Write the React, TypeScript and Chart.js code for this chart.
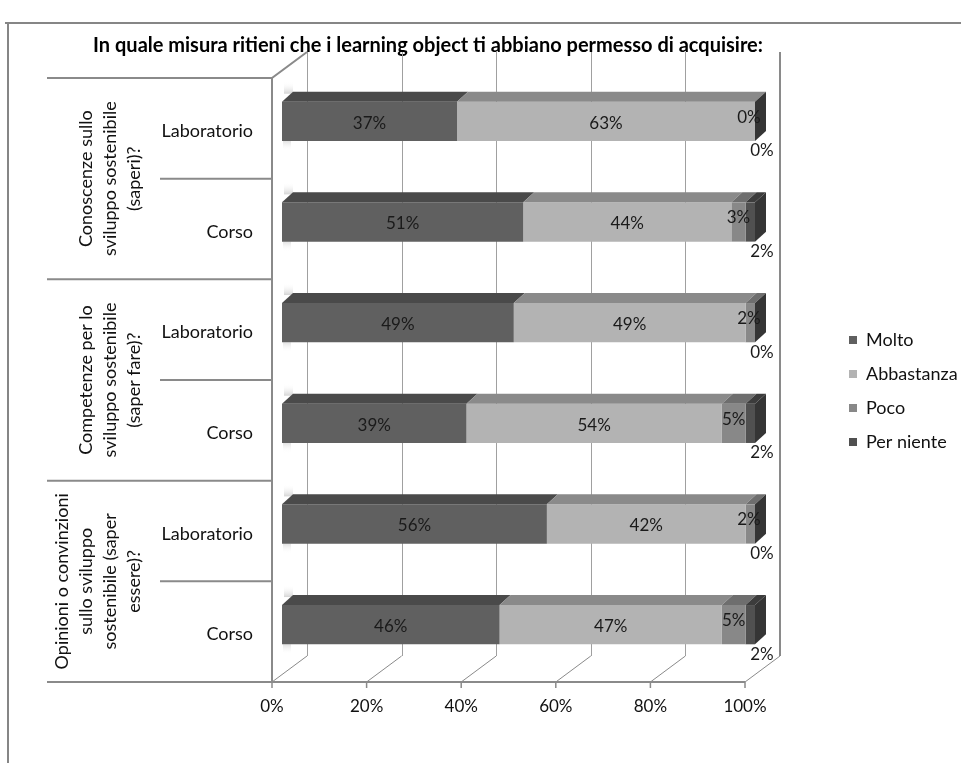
import { useEffect, useRef } from "react";
import { Chart, registerables } from "chart.js";
Chart.register(...registerables);

const title = "In quale misura ritieni che i learning object ti abbiano permesso di acquisire:";
const categories = ["Laboratorio", "Corso", "Laboratorio", "Corso", "Laboratorio", "Corso"];
const groupLabels = [
  ["Conoscenze sullo", "sviluppo sostenibile", "(saperi)?"],
  ["Competenze per lo", "sviluppo sostenibile", "(saper fare)?"],
  ["Opinioni o convinzioni", "sullo sviluppo", "sostenibile (saper", "essere)?"],
];
const seriesNames = ["Molto", "Abbastanza", "Poco", "Per niente"];
const molto = [37, 51, 49, 39, 56, 46];
const abbastanza = [63, 44, 49, 54, 42, 47];
const poco = [0, 3, 2, 5, 2, 5];
const perNiente = [0, 2, 0, 2, 0, 2];
const xTicks = [0, 20, 40, 60, 80, 100];

const frontColors = ["#606060", "#b3b3b3", "#888888", "#505050"];
const topColors = ["#4a4a4a", "#8a8a8a", "#6e6e6e", "#3c3c3c"];
const sideColor = "#353535";
const FONT = "Lato, 'Open Sans', sans-serif";

export default function App() {
  const ref = useRef<HTMLCanvasElement>(null);
  useEffect(() => {
    const DX = 35, DY = -26; // wall depth
    const BDX = 11, BDY = 10; // bar depth
    const FRONT_SHIFT = -10, FRONT_YSHIFT = 7;

    const plugin = {
      id: "threeD",
      beforeDatasetsDraw(chart: any) {
        const ctx = chart.ctx as CanvasRenderingContext2D;
        const xs = chart.scales.x, ys = chart.scales.y;
        const front = (v: number) => xs.getPixelForValue(v) + FRONT_SHIFT;
        const back = (v: number) => front(v) + DX;
        const n = categories.length;
        const band = (ys.bottom - ys.top) / n;
        const fTop = ys.top + FRONT_YSHIFT;
        const fBot = ys.bottom + FRONT_YSHIFT;
        const bTop = fTop + DY, bBot = fBot + DY;
        ctx.save();
        ctx.fillStyle = "#fff";
        ctx.fillRect(0, 0, chart.width, chart.height);
        // frame
        ctx.strokeStyle = "#868686";
        ctx.lineWidth = 2;
        ctx.beginPath();
        ctx.moveTo(5, 23); ctx.lineTo(chart.width, 23);
        ctx.moveTo(8, 23); ctx.lineTo(8, chart.height);
        ctx.stroke();
        // title
        ctx.fillStyle = "#000";
        ctx.font = `bold 20px ${FONT}`;
        ctx.textAlign = "center";
        ctx.textBaseline = "middle";
        ctx.fillText(title, 428, 46);
        // back wall gridlines
        ctx.strokeStyle = "#a0a0a0";
        ctx.lineWidth = 1;
        xTicks.forEach((v) => {
          ctx.beginPath();
          ctx.moveTo(Math.round(back(v)) + 0.5, bTop);
          ctx.lineTo(Math.round(back(v)) + 0.5, bBot);
          ctx.stroke();
        });
        // floor diagonals
        ctx.strokeStyle = "#8a8a8a";
        xTicks.forEach((v) => {
          ctx.beginPath();
          ctx.moveTo(front(v), fBot);
          ctx.lineTo(back(v), bBot);
          ctx.stroke();
        });
        // right wall edge
        ctx.lineWidth = 2;
        ctx.strokeStyle = "#8a8a8a";
        ctx.beginPath();
        ctx.moveTo(back(100), bTop);
        ctx.lineTo(back(100), bBot);
        ctx.stroke();
        // left wall
        ctx.beginPath();
        ctx.moveTo(front(0), fBot);
        ctx.lineTo(front(0), fTop);
        ctx.lineTo(back(0), bTop);
        ctx.stroke();
        // floor front edge
        ctx.beginPath();
        ctx.moveTo(47, fBot);
        ctx.lineTo(front(100), fBot);
        ctx.stroke();
        // tick marks
        ctx.lineWidth = 1.5;
        xTicks.forEach((v) => {
          ctx.beginPath();
          ctx.moveTo(front(v), fBot);
          ctx.lineTo(front(v), fBot + 6);
          ctx.stroke();
        });
        // category axis lines
        ctx.lineWidth = 2;
        for (let k = 0; k < n; k++) {
          const y = fTop + k * band;
          ctx.beginPath();
          ctx.moveTo(k % 2 === 0 ? 47 : 160, y);
          ctx.lineTo(front(0), y);
          ctx.stroke();
        }
        // soft bar shadows on the left wall
        chart.getDatasetMeta(0).data.forEach((el: any) => {
          const t = el.y - el.height / 2, b = el.y + el.height / 2;
          const x0 = el.base;
          let g = ctx.createLinearGradient(0, t - BDY + 2, 0, t - BDY - 10);
          g.addColorStop(0, "rgba(160,160,160,0.45)");
          g.addColorStop(1, "rgba(255,255,255,0)");
          ctx.fillStyle = g;
          ctx.fillRect(x0 + 2, t - BDY - 10, 9, 12);
          g = ctx.createLinearGradient(0, b, 0, b + 10);
          g.addColorStop(0, "rgba(170,170,170,0.35)");
          g.addColorStop(1, "rgba(255,255,255,0)");
          ctx.fillStyle = g;
          ctx.fillRect(x0 + 1, b, 8, 10);
        });
        // x tick labels
        ctx.fillStyle = "#111";
        ctx.font = `17px ${FONT}`;
        ctx.textAlign = "center";
        ctx.textBaseline = "middle";
        xTicks.forEach((v) => ctx.fillText(`${v}%`, front(v), fBot + 25));
        // sub category labels
        ctx.font = `18px ${FONT}`;
        ctx.textAlign = "right";
        categories.forEach((c, i) => {
          ctx.fillText(c, 253, fTop + (i + 0.5) * band + 3);
        });
        // group labels (rotated)
        ctx.textAlign = "center";
        groupLabels.forEach((lines, g) => {
          const cy = fTop + (g * 2 + 1) * band;
          const m = lines.length;
          lines.forEach((ln, i) => {
            const x = 134 - (m - 1 - i) * 24;
            ctx.save();
            ctx.translate(x, cy);
            ctx.rotate(-Math.PI / 2);
            ctx.fillText(ln, 0, 0);
            ctx.restore();
          });
        });
        // legend
        ctx.textAlign = "left";
        seriesNames.forEach((s, i) => {
          const y = 340 + i * 34;
          ctx.fillStyle = frontColors[i];
          ctx.fillRect(849, y - 4, 8, 8);
          ctx.fillStyle = "#111";
          ctx.fillText(s, 866, y);
        });
        ctx.restore();
      },
      afterDatasetsDraw(chart: any) {
        const ctx = chart.ctx as CanvasRenderingContext2D;
        const nd = chart.data.datasets.length;
        ctx.save();
        // top faces
        for (let d = 0; d < nd; d++) {
          const meta = chart.getDatasetMeta(d);
          meta.data.forEach((el: any) => {
            const t = el.y - el.height / 2;
            const x1 = Math.min(el.base, el.x), x2 = Math.max(el.base, el.x);
            if (x2 - x1 < 0.01) return;
            ctx.fillStyle = topColors[d];
            ctx.beginPath();
            ctx.moveTo(x1, t);
            ctx.lineTo(x2, t);
            ctx.lineTo(x2 + BDX, t - BDY);
            ctx.lineTo(x1 + BDX, t - BDY);
            ctx.closePath();
            ctx.fill();
          });
        }
        // right side faces
        const last = chart.getDatasetMeta(nd - 1);
        last.data.forEach((el: any) => {
          const t = el.y - el.height / 2, b = el.y + el.height / 2;
          const x = el.x;
          ctx.fillStyle = sideColor;
          ctx.beginPath();
          ctx.moveTo(x, t);
          ctx.lineTo(x + BDX, t - BDY);
          ctx.lineTo(x + BDX, b - BDY);
          ctx.lineTo(x, b);
          ctx.closePath();
          ctx.fill();
        });
        // data labels
        ctx.fillStyle = "#1a1a1a";
        ctx.font = `17px ${FONT}`;
        ctx.textAlign = "center";
        ctx.textBaseline = "middle";
        for (let d = 0; d < nd; d++) {
          const meta = chart.getDatasetMeta(d);
          const vals = chart.data.datasets[d].data as number[];
          meta.data.forEach((el: any, i: number) => {
            const label = `${vals[i]}%`;
            const b = el.y + el.height / 2;
            if (d < 2) {
              ctx.fillText(label, (el.base + el.x) / 2, el.y + 2);
            } else if (d === 2) {
              const end = chart.getDatasetMeta(nd - 1).data[i].x;
              ctx.fillText(label, Math.min((el.base + el.x) / 2, end - 6), el.y - 4);
            } else {
              ctx.fillText(label, el.x + 7, b + 10);
            }
          });
        }
        ctx.restore();
      },
    };

    const chart = new Chart(ref.current!, {
      type: "bar",
      data: {
        labels: categories.map((c, i) => `${c} ${i}`),
        datasets: [molto, abbastanza, poco, perNiente].map((data, i) => ({
          label: seriesNames[i],
          data,
          backgroundColor: frontColors[i],
          borderWidth: 0,
          barPercentage: 0.39,
          categoryPercentage: 1,
        })),
      },
      options: {
        animation: false,
        responsive: false,
        indexAxis: "y",
        layout: { padding: { left: 282, right: 206, top: 71, bottom: 88 } },
        plugins: { legend: { display: false }, title: { display: false }, tooltip: { enabled: false } },
        scales: {
          x: { type: "linear", min: 0, max: 100, stacked: true, display: false },
          y: { type: "category", stacked: true, display: false },
        },
      },
      plugins: [plugin],
    } as any);
    return () => chart.destroy();
  }, []);
  return (
    <div style={{ position: "fixed", left: 0, top: 0, width: 961, height: 763, background: "#fff" }}>
      <canvas ref={ref} width={961} height={763} style={{ display: "block", width: 961, height: 763 }} />
    </div>
  );
}
